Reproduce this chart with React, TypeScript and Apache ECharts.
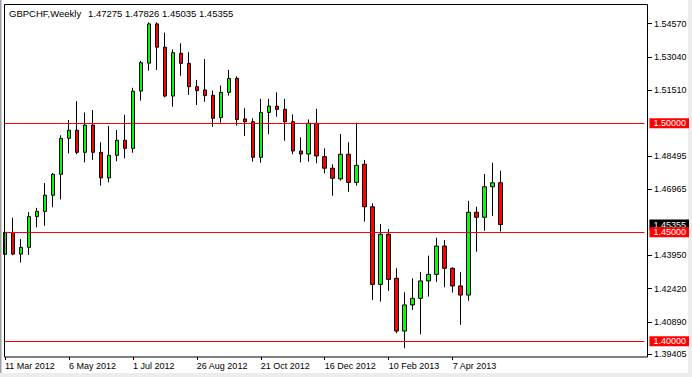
import React, { useEffect, useRef } from "react";
import * as echarts from "echarts";

const SYMBOL_TITLE = "GBPCHF,Weekly";
const OHLC_TEXT = "1.47275 1.47826 1.45035 1.45355";
const TOTAL_SLOTS = 81;
const MONTHS = ["Jan", "Feb", "Mar", "Apr", "May", "Jun", "Jul", "Aug", "Sep", "Oct", "Nov", "Dec"];

const opens = [
  1.4399, 1.45, 1.44, 1.4431, 1.4572, 1.4596, 1.467, 1.4766, 1.4931, 1.4968,
  1.4867, 1.4992, 1.4867, 1.475, 1.4853, 1.4922, 1.4885, 1.5148, 1.5276, 1.5456,
  1.5349, 1.5125, 1.5321, 1.5275, 1.5168, 1.5153, 1.5128, 1.5026, 1.5142, 1.5206,
  1.502, 1.5007, 1.4844, 1.505, 1.5079, 1.5064, 1.5007, 1.4873, 1.4859, 1.5,
  1.4847, 1.4794, 1.4745, 1.4858, 1.4729, 1.4812, 1.4617, 1.4261, 1.4491, 1.4289,
  1.4047, 1.4167, 1.4197, 1.4277, 1.4307, 1.4437, 1.4335, 1.4254, 1.4212, 1.4592,
  1.4569, 1.4709, 1.47275,
];
const highs = [
  1.4625, 1.4567, 1.4469, 1.4593, 1.4612, 1.4726, 1.4772, 1.4945, 1.5015, 1.5102,
  1.505, 1.5061, 1.4913, 1.4988, 1.4969, 1.5039, 1.5163, 1.5287, 1.5463, 1.5463,
  1.5416, 1.5339, 1.5367, 1.5326, 1.5199, 1.5295, 1.515, 1.5173, 1.5245, 1.5215,
  1.5069, 1.5023, 1.5112, 1.5112, 1.5142, 1.5112, 1.5041, 1.4936, 1.5018, 1.5066,
  1.4885, 1.4812, 1.4951, 1.4913, 1.5003, 1.4832, 1.4633, 1.4538, 1.4515, 1.4335,
  1.4225, 1.4289, 1.4317, 1.4393, 1.4475, 1.4465, 1.4339, 1.4317, 1.4644, 1.4617,
  1.4767, 1.4819, 1.47826,
];
const lows = [
  1.4312, 1.4395, 1.4361, 1.4396, 1.4523, 1.453, 1.4615, 1.4651, 1.4862, 1.4858,
  1.4821, 1.4832, 1.4714, 1.4729, 1.4826, 1.4839, 1.4865, 1.5104, 1.5241, 1.5245,
  1.5119, 1.5076, 1.5218, 1.513, 1.5084, 1.5099, 1.4984, 1.5003, 1.5127, 1.4989,
  1.4942, 1.4824, 1.4819, 1.495, 1.503, 1.492, 1.4858, 1.4821, 1.4824, 1.4817,
  1.4771, 1.4668, 1.4737, 1.4686, 1.4714, 1.4549, 1.4189, 1.4182, 1.4231, 1.4037,
  1.3968, 1.4144, 1.4032, 1.4205, 1.4273, 1.4248, 1.4223, 1.4075, 1.4186, 1.4411,
  1.4507, 1.4575, 1.45035,
];
const closes = [
  1.45, 1.44, 1.4431, 1.4572, 1.4596, 1.467, 1.4766, 1.4931, 1.4968, 1.4867,
  1.4992, 1.4867, 1.475, 1.4853, 1.4922, 1.4885, 1.5147, 1.5278, 1.5456, 1.5349,
  1.5125, 1.5324, 1.5275, 1.5168, 1.515, 1.5127, 1.5023, 1.5142, 1.5206, 1.5018,
  1.5007, 1.4844, 1.505, 1.5079, 1.5064, 1.5007, 1.4873, 1.4859, 1.5, 1.485,
  1.4794, 1.4748, 1.4858, 1.4729, 1.4807, 1.4617, 1.4261, 1.4491, 1.4284, 1.4047,
  1.4167, 1.4197, 1.4277, 1.4307, 1.4437, 1.4335, 1.4254, 1.4212, 1.4592, 1.4569,
  1.4709, 1.4727, 1.45355,
];

const priceTicks = [1.39405, 1.4089, 1.4242, 1.4395, 1.46965, 1.48495, 1.5151, 1.5304, 1.5457];
const levelLines = [1.5, 1.45, 1.4];
const lastPrice = 1.45355;
const dateTickLabels = [
  "11 Mar 2012",
  "6 May 2012",
  "1 Jul 2012",
  "26 Aug 2012",
  "21 Oct 2012",
  "16 Dec 2012",
  "10 Feb 2013",
  "7 Apr 2013",
];

const FONT = "'Liberation Sans', Arial, sans-serif";
const Y_MIN = 1.392798;
const Y_MAX = 1.554725;

function weekCategories(): string[] {
  const out: string[] = [];
  const start = Date.UTC(2012, 2, 11);
  for (let i = 0; i < TOTAL_SLOTS; i++) {
    const d = new Date(start + i * 7 * 86400000);
    out.push(`${d.getUTCDate()} ${MONTHS[d.getUTCMonth()]} ${d.getUTCFullYear()}`);
  }
  return out;
}

function labelAxis(values: number[], bg: string, z: number) {
  return {
    type: "value",
    position: "right",
    offset: 2.5,
    min: Y_MIN,
    max: Y_MAX,
    z,
    axisLine: { show: false },
    axisTick: { show: false },
    splitLine: { show: false },
    axisLabel: {
      customValues: values,
      formatter: (v: number) => v.toFixed(5),
      color: "#ffffff",
      backgroundColor: bg,
      padding: [1, 3, 0, 4],
      fontSize: 9,
      fontFamily: FONT,
      margin: 2.5,
    },
  };
}

export default function App() {
  const ref = useRef<HTMLDivElement>(null);

  useEffect(() => {
    if (!ref.current) return;
    const chart = echarts.init(ref.current, undefined, { renderer: "svg" });
    const categories = weekCategories();
    const candles = opens.map((o, i) => [o, closes[i], lows[i], highs[i]]);
    const showDate = (_i: number, v: string) => dateTickLabels.includes(v);

    chart.setOption({
      animation: false,
      backgroundColor: "#ffffff",
      grid: { left: 5, top: 4, width: 640, height: 353, containLabel: false },
      xAxis: {
        type: "category",
        data: categories,
        boundaryGap: false,
        axisLine: { show: false },
        axisTick: {
          show: true,
          interval: showDate,
          length: 3,
          lineStyle: { color: "#000" },
        },
        axisLabel: {
          interval: showDate,
          align: "left",
          margin: 4,
          color: "#000",
          fontSize: 9,
          fontFamily: FONT,
        },
        splitLine: { show: false },
      },
      yAxis: [
        {
          type: "value",
          position: "right",
          offset: 2.5,
          min: Y_MIN,
          max: Y_MAX,
          z: 0,
          axisLine: { show: false },
          axisTick: {
            show: true,
            length: 5,
            customValues: priceTicks,
            lineStyle: { color: "#000" },
          },
          axisLabel: {
            customValues: priceTicks,
            formatter: (v: number) => v.toFixed(5),
            color: "#000",
            fontSize: 9,
            fontFamily: FONT,
            margin: 7,
          },
          splitLine: { show: false },
        },
        labelAxis([lastPrice], "#000000", 1),
        labelAxis(levelLines, "#ff0000", 2),
      ],
      series: [
        {
          type: "candlestick",
          data: candles,
          barWidth: 4,
          clip: true,
          yAxisIndex: 0,
          itemStyle: {
            color: "#00ff00",
            color0: "#ff0000",
            borderColor: "#000000",
            borderColor0: "#000000",
            borderWidth: 1,
          },
          markLine: {
            silent: true,
            symbol: ["none", "none"],
            animation: false,
            emphasis: { disabled: true },
            lineStyle: { color: "#ff0000", width: 1, type: "solid", opacity: 1 },
            label: { show: false },
            data: levelLines.map((v) => ({ yAxis: v })),
          },
        },
      ],
      graphic: [
        {
          type: "rect",
          z: 100,
          silent: true,
          shape: { x: 4.5, y: 4.5, width: 643, height: 352.5 },
          style: { fill: "none", stroke: "#000000", lineWidth: 1 },
        },
        {
          type: "rect",
          silent: true,
          shape: { x: 0, y: 0, width: 1.5, height: 377 },
          style: { fill: "#a0a0a0" },
        },
        {
          type: "rect",
          silent: true,
          shape: { x: 688, y: 0, width: 4, height: 377 },
          style: { fill: "#ececec" },
        },
        {
          type: "rect",
          silent: true,
          shape: { x: 0, y: 373, width: 692, height: 4 },
          style: { fill: "#ececec" },
        },
        {
          type: "text",
          x: 9,
          y: 13,
          silent: true,
          style: {
            text: SYMBOL_TITLE,
            fill: "#000",
            fontSize: 9.5,
            fontFamily: FONT,
            verticalAlign: "middle",
          },
        },
        {
          type: "text",
          x: 88,
          y: 13,
          silent: true,
          style: {
            text: OHLC_TEXT,
            fill: "#000",
            fontSize: 9.5,
            fontFamily: FONT,
            verticalAlign: "middle",
          },
        },
      ],
    });

    return () => chart.dispose();
  }, []);

  return (
    <div
      ref={ref}
      style={{ position: "fixed", left: 0, top: 0, width: 692, height: 377, background: "#fff" }}
    />
  );
}
